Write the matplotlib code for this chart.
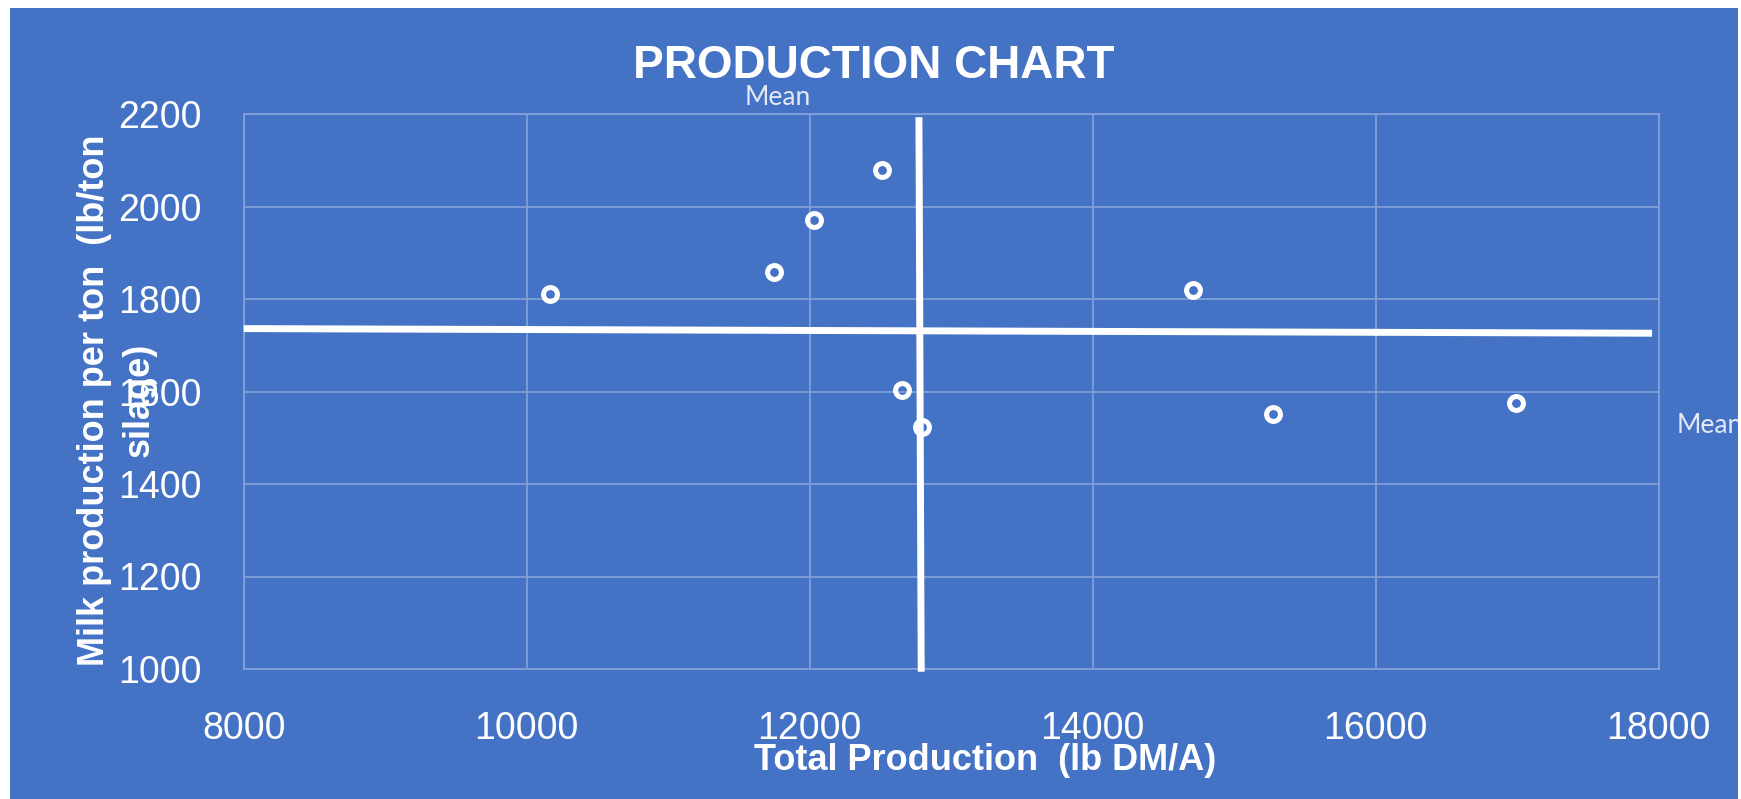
import matplotlib.pyplot as plt

# production per field (lb DM/A) vs milk per ton of silage (lb/ton)
total_production = [10165, 11750, 12030, 12509, 12650, 12791, 14707, 15276, 16992]
milk_per_ton = [1811, 1858, 1971, 2079, 1603, 1523, 1819, 1551, 1576]

# hand-drawn mean lines (slightly slanted in the original)
mean_prod_x = [12772, 12788]
mean_prod_y = [2193, 994]
mean_milk_x = [8000, 17953]
mean_milk_y = [1736, 1726]

x_ticks = [8000, 10000, 12000, 14000, 16000, 18000]
y_ticks = [1000, 1200, 1400, 1600, 1800, 2000, 2200]

BLUE = '#4472C4'
GRID = '#85a3d9'
MEAN_TXT = '#e3e9f6'
W, H = 1741, 799

plt.rcParams['font.family'] = ['Liberation Sans', 'DejaVu Sans']

fig = plt.figure(figsize=(W / 100, H / 100), dpi=100, facecolor='white')

# blue card behind everything
bg = fig.add_axes([10 / W, 0, 1728 / W, 791 / H])
bg.set_facecolor(BLUE)
bg.set_xticks([])
bg.set_yticks([])
for s in bg.spines.values():
    s.set_visible(False)

ax = fig.add_axes([243.7 / W, 130 / H, 1415 / W, 555 / H])
ax.set_facecolor('none')
ax.set_xlim(x_ticks[0], x_ticks[-1])
ax.set_ylim(y_ticks[0], y_ticks[-1])
ax.set_xticks(x_ticks)
ax.set_yticks(y_ticks)
ax.grid(True, color=GRID, linewidth=1.2)
ax.set_axisbelow(True)
for s in ax.spines.values():
    s.set_color(GRID)
    s.set_linewidth(1.2)
ax.tick_params(axis='both', length=0, labelcolor='white', labelsize=27)
ax.tick_params(axis='x', pad=30)
ax.tick_params(axis='y', pad=30)

ax.plot(mean_milk_x, mean_milk_y, color='white', linewidth=5, solid_capstyle='butt',
        clip_on=False, zorder=3)
ax.plot(mean_prod_x, mean_prod_y, color='white', linewidth=5, solid_capstyle='butt',
        clip_on=False, zorder=3)
ax.plot(total_production, milk_per_ton, linestyle='none', marker='o', markersize=10,
        markerfacecolor='none', markeredgecolor='white', markeredgewidth=3.6,
        clip_on=False, zorder=4)

ax.text(11776, 2219, 'Mean', family='Lato', fontsize=19, color=MEAN_TXT,
        ha='center', va='baseline', clip_on=False)
t = ax.text(18129, 1527, 'Mean', family='Lato', fontsize=19, color=MEAN_TXT,
            ha='left', va='center', clip_on=True)
t.set_clip_box(bg.bbox)

fig.text(874 / W, 1 - 66 / H, 'PRODUCTION CHART', fontsize=33, fontweight='bold',
         color='white', ha='center', va='center')
fig.text(985 / W, 1 - 760 / H, 'Total Production  (lb DM/A)', fontsize=26,
         fontweight='bold', color='white', ha='center', va='center')
fig.text(117 / W, 1 - 400 / H, 'Milk production per ton  (lb/ton\nsilage)', fontsize=26,
         fontweight='bold', color='white', ha='center', va='center', rotation=90,
         multialignment='center', linespacing=1.35)

fig.savefig('out.png', dpi=100)
